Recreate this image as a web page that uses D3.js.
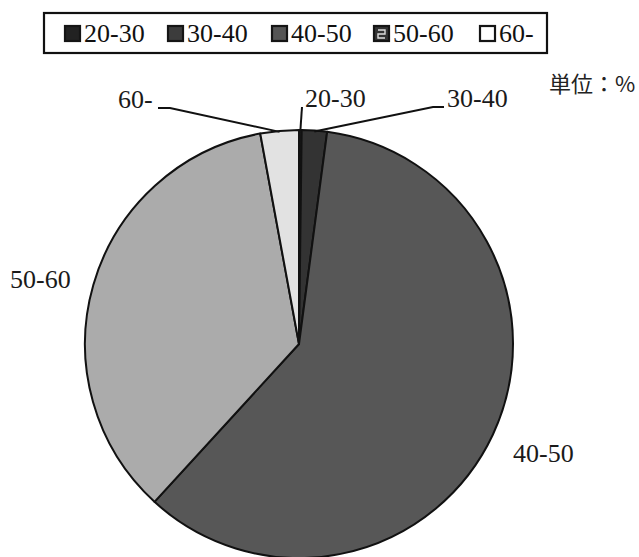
<!DOCTYPE html>
<html>
<head>
<meta charset="utf-8">
<script src="https://cdn.jsdelivr.net/npm/d3@7"></script>
<style>
  html, body { margin: 0; padding: 0; background: #fff; }
  svg { display: block; }
</style>
</head>
<body>
<svg id="chart" width="639" height="557"></svg>
<script>
// ---- data ----
const categories = ["20-30", "30-40", "40-50", "50-60", "60-"];
const values = [0.2, 1.9, 59.7, 35.3, 2.9];
const sliceColors = ["#1e1e1e", "#333333", "#575757", "#ababab", "#e2e2e2"];
const legendColors = ["#222222", "#3c3c3c", "#555555", "#333333", "#ffffff"];
const unitLabel = "単位：%";

const svg = d3.select("#chart");
const cx = 299, cy = 344, R = 214;

// ---- legend ----
const legend = svg.append("g");
legend.append("rect")
  .attr("x", 44).attr("y", 13).attr("width", 503).attr("height", 40)
  .attr("fill", "#fff").attr("stroke", "#111").attr("stroke-width", 2.2);

const legendX = d3.scaleOrdinal().domain(categories).range([64, 167, 271, 373, 479]);
const li = legend.selectAll("g.item").data(categories).enter().append("g")
  .attr("transform", d => `translate(${legendX(d)},25)`);
li.append("rect")
  .attr("x", 1).attr("y", 1).attr("width", 15).attr("height", 15)
  .attr("fill", (d, i) => legendColors[i])
  .attr("stroke", "#151515").attr("stroke-width", 2.2);
// pattern mark for 50-60 symbol
li.filter(d => d === "50-60").append("path")
  .attr("d", "M5,5 H12 V9 H5 V13 H12")
  .attr("fill", "none").attr("stroke", "#ddd").attr("stroke-width", 1.4);
li.append("text")
  .attr("x", 20).attr("y", 17)
  .attr("font-family", "Liberation Serif, serif")
  .attr("font-size", 26).attr("fill", "#111")
  .text(d => d);

// ---- unit ----
svg.append("text")
  .attr("x", 549).attr("y", 92)
  .attr("font-family", "Noto Sans CJK JP, sans-serif")
  .attr("font-size", 22).attr("fill", "#222")
  .text(unitLabel);

// ---- pie ----
const pie = d3.pie().sort(null).value(d => d)(values);
const arc = d3.arc().innerRadius(0).outerRadius(R);
const g = svg.append("g").attr("transform", `translate(${cx},${cy})`);
g.selectAll("path").data(pie).enter().append("path")
  .attr("d", arc)
  .attr("fill", (d, i) => sliceColors[i])
  .attr("stroke", "#111").attr("stroke-width", 2)
  .attr("stroke-linejoin", "round");

// ---- labels ----
const labelFont = "Liberation Serif, serif";
const outerPt = d3.arc().innerRadius(R - 1).outerRadius(R - 1);
function edge(i) {
  const c = outerPt.centroid(pie[i]);
  return [cx + c[0], cy + c[1]];
}
const leaders = [
  { i: 4, tx: 118, ty: 108, pts: [[158, 108], [170, 108]] },
  { i: 0, tx: 305, ty: 107, pts: [[302, 107]] },
  { i: 1, tx: 447, ty: 107, pts: [[444, 107], [433, 107]] }
];
leaders.forEach(l => {
  const e = edge(l.i);
  svg.append("path")
    .attr("d", d3.line()(l.pts.concat([e])))
    .attr("fill", "none").attr("stroke", "#111").attr("stroke-width", 2);
  svg.append("text")
    .attr("x", l.tx).attr("y", l.ty)
    .attr("font-family", labelFont).attr("font-size", 26).attr("fill", "#1a1a1a")
    .text(categories[l.i]);
});
svg.append("text")
  .attr("x", 10).attr("y", 288)
  .attr("font-family", labelFont).attr("font-size", 26).attr("fill", "#1a1a1a")
  .text(categories[3]);
svg.append("text")
  .attr("x", 513).attr("y", 462)
  .attr("font-family", labelFont).attr("font-size", 26).attr("fill", "#1a1a1a")
  .text(categories[2]);
</script>
</body>
</html>
